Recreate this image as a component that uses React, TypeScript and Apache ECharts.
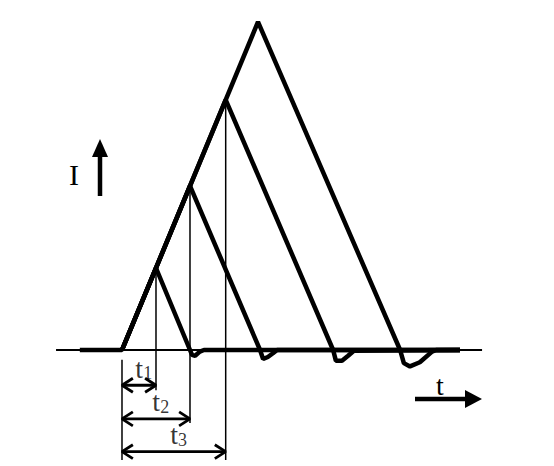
import { useEffect, useRef } from 'react';
import * as echarts from 'echarts';

// pulse values, time t and current I in arbitrary units
const peakTimes = [1, 2, 3.05, 4];
const peakCurrents = [1, 2, 3.05, 4];
const fallEndTimes = [2.0, 4.06, 6.21, 8.18];
// small undershoot after every pulse, [t, I]
const undershoots = [
  [[2.06, -0.06], [2.15, -0.07], [2.29, -0.02], [2.41, 0]],
  [[4.15, -0.11], [4.29, -0.085], [4.44, -0.04], [4.56, 0]],
  [[6.29, -0.13], [6.47, -0.13], [6.65, -0.07], [6.82, -0.01]],
  [[8.29, -0.16], [8.47, -0.2], [8.76, -0.15], [9.12, -0.02], [9.24, 0]],
];
const leadFrom = -1.24;
const tailEnd = 9.94;
const baseFrom = -1.94;
const baseTo = 10.59;
const dimNames = ['1', '2', '3'];

const font = 'Liberation Serif';

export default function App() {
  const chartRef = useRef(null);

  useEffect(() => {
    const chart = echarts.init(chartRef.current, null, { renderer: 'svg' });

    // layout of the dimension lines below the axis (data units)
    const dimLevels = [-0.43, -0.84, -1.24];
    const extEnds = [-0.49, -0.89, -1.34];
    const dx = 0.32;
    const dy = 0.085;

    const thick = (data: number[][], width = 4.5) => ({
      type: 'line',
      data,
      symbol: 'none',
      silent: true,
      lineStyle: { color: '#000', width },
    });

    const series: any[] = [];
    series.push(thick([[baseFrom, 0], [baseTo, 0]], 2));

    peakTimes.forEach((pt, i) => {
      const lead = i === peakTimes.length - 1 ? [[leadFrom, 0]] : [];
      series.push(
        thick([
          ...lead,
          [0, 0],
          [pt, peakCurrents[i]],
          [fallEndTimes[i], 0],
          ...undershoots[i],
          [tailEnd, 0],
        ])
      );
    });

    // left extension line
    series.push(thick([[0, -0.12], [0, extEnds[2]]], 1.5));

    dimNames.forEach((name, i) => {
      const tk = peakTimes[i];
      const L = dimLevels[i];
      series.push(thick([[tk, peakCurrents[i]], [tk, extEnds[i]]], 1.5));
      series.push(thick([[0, L], [tk, L]], 2.8));
      series.push(thick([[dx, L + dy], [0, L], [dx, L - dy]], 2.8));
      series.push(thick([[tk - dx, L + dy], [tk, L], [tk - dx, L - dy]], 2.8));
      series.push({
        type: 'scatter',
        data: [[tk / 2 + 0.14, L]],
        symbolSize: 0,
        silent: true,
        label: {
          show: true,
          position: 'top',
          distance: 3,
          formatter: '{t|t}{s|' + name + '}',
          rich: {
            t: { fontFamily: font, fontSize: 28, color: '#000', lineHeight: 32, verticalAlign: 'bottom' },
            s: { fontFamily: font, fontSize: 18, color: '#000', lineHeight: 17, verticalAlign: 'bottom' },
          },
        },
      });
    });

    const option = {
      animation: false,
      backgroundColor: '#fff',
      grid: { left: 0, right: 0, top: 0, bottom: 0 },
      xAxis: { type: 'value', min: -3.588, max: 12.706, show: false },
      yAxis: { type: 'value', min: -1.4146, max: 4.268, show: false },
      series,
      graphic: [
        {
          type: 'text',
          x: 74,
          y: 174,
          style: { text: 'I', fontFamily: font, fontSize: 30, fill: '#000', align: 'center', verticalAlign: 'middle' },
        },
        { type: 'line', shape: { x1: 100, y1: 196, x2: 100, y2: 154 }, style: { stroke: '#000', lineWidth: 4.5 } },
        { type: 'polygon', shape: { points: [[92, 157], [108, 157], [100, 139]] }, style: { fill: '#000' } },
        {
          type: 'text',
          x: 440,
          y: 385,
          style: { text: 't', fontFamily: font, fontSize: 28, fill: '#000', align: 'center', verticalAlign: 'middle' },
        },
        { type: 'line', shape: { x1: 415, y1: 399, x2: 467, y2: 399 }, style: { stroke: '#000', lineWidth: 4.5 } },
        { type: 'polygon', shape: { points: [[465, 390], [465, 408], [482, 399]] }, style: { fill: '#000' } },
      ],
    };

    chart.setOption(option);
    return () => {
      chart.dispose();
    };
  }, []);

  return (
    <div
      ref={chartRef}
      style={{ position: 'absolute', left: 0, top: 0, width: '554px', height: '466px' }}
    />
  );
}
